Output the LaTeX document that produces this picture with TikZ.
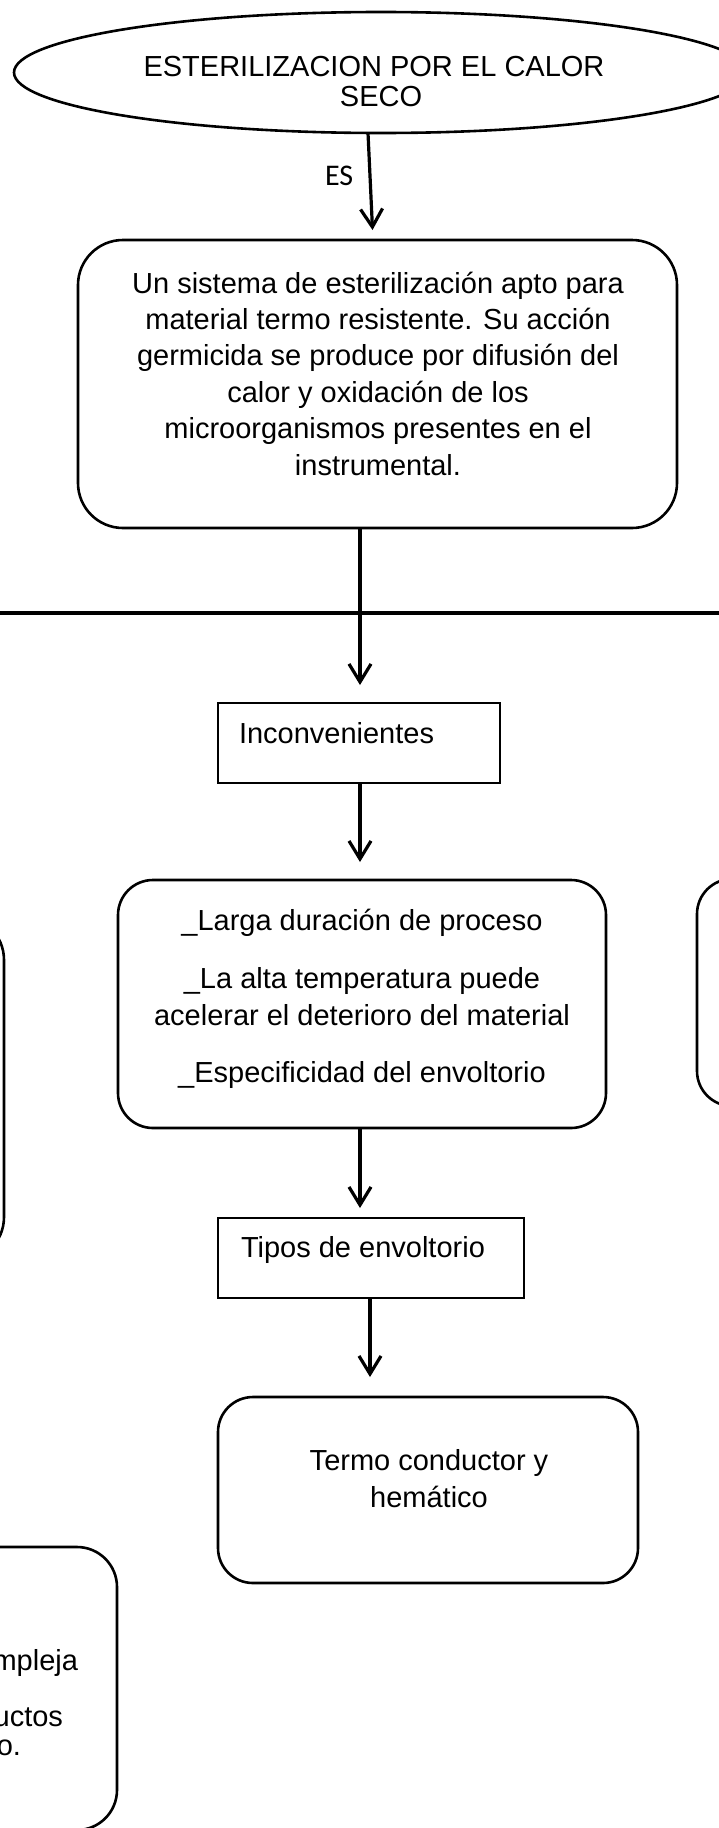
\documentclass[tikz,border=0pt]{standalone}
\usepackage{fontspec}
\setmainfont{Liberation Sans}
\newfontfamily\calib{Carlito}
\usetikzlibrary{shapes.geometric,arrows.meta}
\begin{document}
\begin{tikzpicture}[x=1pt,y=-1pt,
  every node/.style={inner sep=0pt, outer sep=0pt},
  txt/.style={font=\fontsize{29}{35}\selectfont, anchor=base},
  rbox/.style={draw, line width=2.6pt, rounded corners=#1},
  rbox/.default=35pt,
  sbox/.style={draw, line width=2pt, rectangle},
  arr/.style={line width=3.2pt, -{Straight Barb[length=18pt,width=22pt]}}]
\useasboundingbox (0,0) rectangle (719,1828);
\fill[white] (0,0) rectangle (719,1828);
\clip (0,0) rectangle (719,1828);

% helper coordinates for connector x positions
\coordinate (s1) at (368,0);
\coordinate (s2) at (373,0);
\coordinate (c1) at (360,0);
\coordinate (c2) at (370,0);
\coordinate (hl1) at (0,613);
\coordinate (hl2) at (719,613);

% ellipse
\node[draw, ellipse, line width=2.6pt, minimum width=734pt, minimum height=121pt] (ell) at (381,72.5) {};
\node[txt] (ellt1) at (374,77) {ESTERILIZACION POR EL CALOR};
\node[txt] (ellt2) at (381,106) {SECO};

% box 1
\node[rbox=45pt, minimum width=599pt, minimum height=288pt] (box1) at (377.5,384) {};
\node[txt] (b1l1) at (378,293) {Un sistema de esterilización apto para};
\node[txt] (b1l2) at (378,329.4) {material termo resistente. Su acción};
\node[txt] (b1l3) at (378,365.8) {germicida se produce por difusión del};
\node[txt] (b1l4) at (378,402.2) {calor y oxidación de los};
\node[txt] (b1l5) at (378,438.6) {microorganismos presentes en el};
\node[txt] (b1l6) at (378,475) {instrumental.};

% Inconvenientes
\node[sbox, minimum width=282pt, minimum height=80pt] (inc) at (359,743) {};
\node[txt, anchor=base west] (inct) at (239,743) {Inconvenientes};

% box 2
\node[rbox, minimum width=488pt, minimum height=248pt] (box2) at (362,1004) {};
\node[txt] (b2l1) at (362,930) {\_Larga duración de proceso};
\node[txt] (b2l2) at (362,988) {\_La alta temperatura puede};
\node[txt] (b2l3) at (362,1025) {acelerar el deterioro del material};
\node[txt] (b2l4) at (362,1082) {\_Especificidad del envoltorio};

% side boxes (cut off)
\node[rbox=45pt, minimum width=304pt, minimum height=347pt] (lb) at (-148,1088.5) {};
\node[rbox, minimum width=303pt, minimum height=227pt] (rb) at (848.5,992.5) {};

% Tipos de envoltorio
\node[sbox, minimum width=306pt, minimum height=80pt] (tip) at (371,1258) {};
\node[txt, anchor=base west] (tipt) at (241,1257) {Tipos de envoltorio};

% box 3
\node[rbox, minimum width=420pt, minimum height=186pt] (box3) at (428,1490) {};
\node[txt] (b3l1) at (429,1470) {Termo conductor y};
\node[txt] (b3l2) at (429,1507) {hemático};

% bottom-left box (cut off)
\node[rbox=40pt, minimum width=417pt, minimum height=283pt] (bl) at (-91.5,1688.5) {};
\node[txt, anchor=base east] (bll1) at (78,1670) {mpleja};
\node[txt, anchor=base east] (bll2) at (63,1726) {uctos};
\node[txt, anchor=base east] (bll3) at (21,1755) {vo.};

% horizontal line
\draw[line width=4pt] (hl1) -- (hl2);

% connectors
\draw[arr, shorten >=10pt] (ell.south -| s1) -- (box1.north -| s2);
\node[font=\calib\fontsize{30}{36}\selectfont, anchor=base west] (es) at (325,185) {ES};
\draw[arr, shorten >=18pt] (box1.south -| c1) -- (inc.north -| c1);
\draw[arr, shorten >=18pt] (inc.south -| c1) -- (box2.north -| c1);
\draw[arr, shorten >=10pt] (box2.south -| c1) -- (tip.north -| c1);
\draw[arr, shorten >=20pt] (tip.south -| c2) -- (box3.north -| c2);
\end{tikzpicture}
\end{document}
